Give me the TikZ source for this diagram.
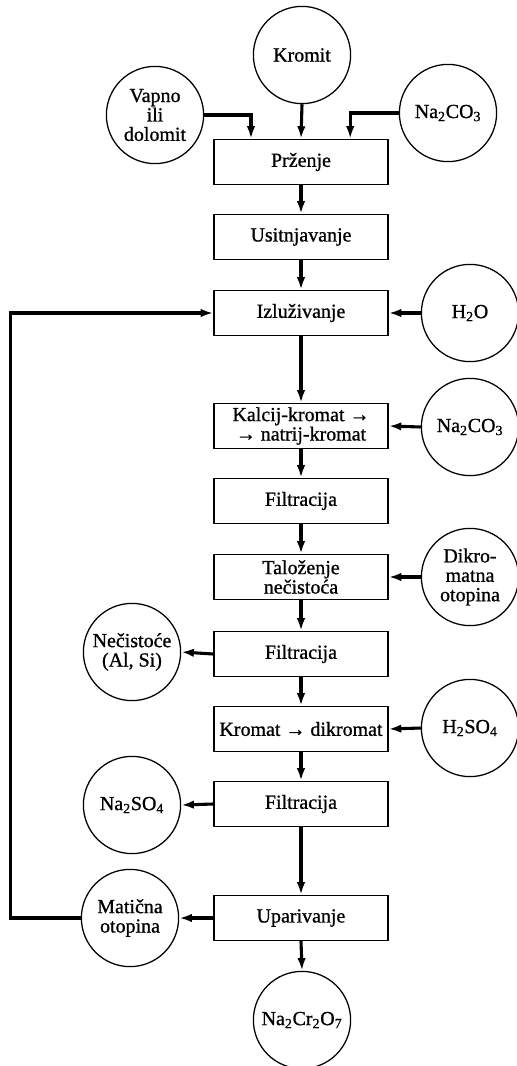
\documentclass[tikz,border=0pt]{standalone}
\usepackage{fontspec}
\setmainfont{Liberation Serif}[FakeBold=0.9]
\usetikzlibrary{arrows.meta,positioning,calc}
\tikzset{
  proc/.style={rectangle,draw,line width=0.9pt,minimum width=4.35cm,
               minimum height=1.125cm,align=center,inner sep=2pt},
  tok/.style={circle,draw,line width=0.9pt,minimum size=2.43cm,
              inner sep=0pt,align=center},
  arr/.style={-{Latex[length=9pt,width=6pt]},line width=2.2pt},
}

\begin{document}
\begin{tikzpicture}[
  x=0.025cm, y=-0.025cm,
  every node/.style={font=\fontsize{14.2}{13.8}\selectfont}
]
  \useasboundingbox (0,0) rectangle (516,1066);

  % main line
  \node[proc] (przenje)   at (301,162) {Prženje};
  \node[proc] (usitnj)    at (301,237) {Usitnjavanje};
  \node[proc] (izluz)     at (301,313) {Izluživanje};
  \node[proc] (kalcij)    at (301,426) {Kalcij-kromat →\\→ natrij-kromat};
  \node[proc] (filtA)     at (301,501) {Filtracija};
  \node[proc] (talozenje) at (301,577) {Taloženje\\nečistoća};
  \node[proc] (filtB)     at (301,654) {Filtracija};
  \node[proc] (kromat)    at (301,729) {Kromat → dikromat};
  \node[proc] (filtC)     at (301,804) {Filtracija};
  \node[proc] (upar)      at (301,918) {Uparivanje};

  % inputs
  \node[tok] (kromit) at (302,55)  {Kromit};
  \node[tok] (vapno)  at (155,115) {Vapno\\ili\\dolomit};
  \node[tok] (sodaA)  at (448,113) {Na\textsubscript{2}CO\textsubscript{3}};
  \node[tok] (voda)   at (470,313) {H\textsubscript{2}O};
  \node[tok] (sodaB)  at (470,427) {Na\textsubscript{2}CO\textsubscript{3}};
  \node[tok] (dikrom) at (470,577) {Dikro-\\matna\\otopina};
  \node[tok] (kiselina) at (470,728) {H\textsubscript{2}SO\textsubscript{4}};

  % outputs
  \node[tok] (necist)  at (132,652) {Nečistoće\\(Al,\ Si)};
  \node[tok] (sulfat)  at (132,805) {Na\textsubscript{2}SO\textsubscript{4}};
  \node[tok] (maticna) at (130,918) {Matična\\otopina};
  \node[tok] (produkt) at (302,1020) {Na\textsubscript{2}Cr\textsubscript{2}O\textsubscript{7}};

  % arrows
  \draw[arr] (kromit.south) -- (przenje.north);
  \draw[arr] (vapno.east) -| ([xshift=-1.25cm]przenje.north);
  \draw[arr] (sodaA.west) -| ([xshift=1.23cm]przenje.north);

  \foreach \a/\b in {przenje/usitnj, usitnj/izluz, izluz/kalcij,
                     kalcij/filtA, filtA/talozenje, talozenje/filtB,
                     filtB/kromat, kromat/filtC, filtC/upar, upar/produkt}
    \draw[arr] (\a.south) -- (\b.north);

  \foreach \a/\b in {voda/izluz, sodaB/kalcij, dikrom/talozenje, kiselina/kromat}
    \draw[arr] (\a.west) -- (\b.east);

  \foreach \a/\b in {filtB/necist, filtC/sulfat, upar/maticna}
    \draw[arr] (\a.west) -- (\b.east);

  % return of mother liquor
  \draw[arr] (maticna.west) -- ++(-70,0) |- (izluz.west);

\end{tikzpicture}
\end{document}
